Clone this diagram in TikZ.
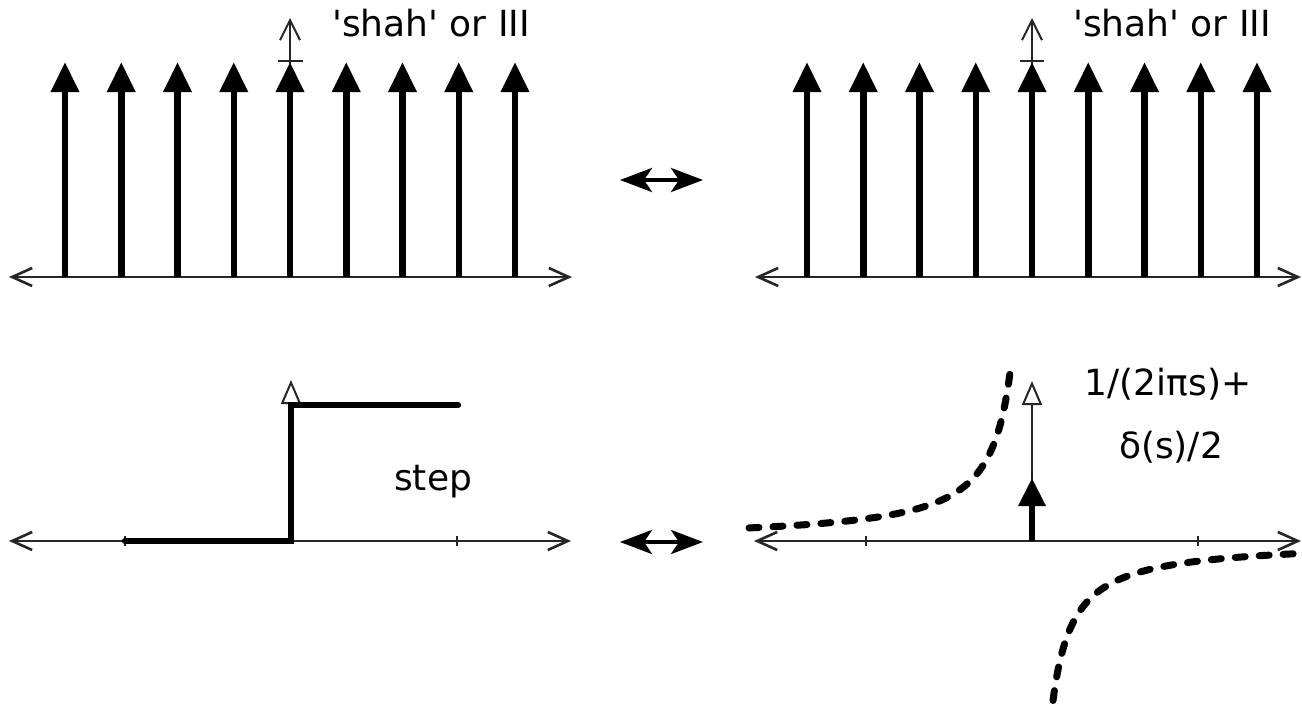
\documentclass[tikz,border=0pt]{standalone}
\usepackage{fontspec}
\setmainfont{DejaVu Sans}
\usetikzlibrary{arrows.meta}
\begin{document}
\begin{tikzpicture}[x=1pt,y=-1pt,
  axisline/.style={line width=2pt, draw=black!85},
  haxis/.style={axisline, {Straight Barb[length=20pt,width=18pt,line width=2.6pt]}-{Straight Barb[length=20pt,width=18pt,line width=2.6pt]}},
  vaxisbarb/.style={axisline, -{Straight Barb[length=20pt,width=20pt]}},
  vaxisopen/.style={axisline, -{Triangle[open,length=24pt,width=20pt,fill=white]}},
  spike/.style={line width=6.5pt, -{Triangle[length=30pt,width=27pt]}},
  dblarrow/.style={line width=4pt, {Stealth[length=32pt,width=24pt,inset=8pt]}-{Stealth[length=32pt,width=24pt,inset=8pt]}},
  stepline/.style={line width=6.5pt, line cap=round, line join=miter},
  tickmark/.style={line width=1.6pt, draw=black!85},
  dashcurve/.style={line width=7pt, line cap=round, dash pattern=on 10pt off 14pt},
  lbl/.style={font=\fontsize{36}{43}\selectfont, inner sep=0pt}]
\useasboundingbox (0,0) rectangle (1302,710);
\fill[white] (0,0) rectangle (1302,710);

% ---------- top-left: shah ----------
\coordinate (tlL) at (9,277);
\coordinate (tlR) at (572,277);
\coordinate (tlO) at (290,277);
\coordinate (tlT) at (290,18);
\draw[haxis] (tlL) -- (tlR);
\draw[vaxisbarb] (tlO) -- (tlT);
\draw[tickmark] (278,61) -- (303,61);
\foreach \k in {-4,...,4}{
  \draw[spike] ({290+56.25*\k},277) -- ({290+56.25*\k},62);
}
\node[lbl, anchor=base west] (shahL) at (332,36) {\textquotesingle shah\textquotesingle\ or III};

% ---------- top-right: shah ----------
\coordinate (trL) at (755,277);
\coordinate (trR) at (1301,277);
\coordinate (trO) at (1032,277);
\coordinate (trT) at (1032,18);
\draw[haxis] (trL) -- (trR);
\draw[vaxisbarb] (trO) -- (trT);
\draw[tickmark] (1020,61) -- (1044,61);
\foreach \k in {-4,...,4}{
  \draw[spike] ({1032+56.25*\k},277) -- ({1032+56.25*\k},62);
}
\node[lbl, anchor=base west] (shahR) at (1073,36) {\textquotesingle shah\textquotesingle\ or III};

% ---------- middle double arrows ----------
\coordinate (dA1) at (620,180);
\coordinate (dB1) at (703,180);
\draw[dblarrow] (dA1) -- (dB1);
\coordinate (dA2) at (620,542);
\coordinate (dB2) at (703,542);
\draw[dblarrow] (dA2) -- (dB2);

% ---------- bottom-left: step ----------
\coordinate (blL) at (9,541);
\coordinate (blR) at (571,541);
\coordinate (blO) at (291,541);
\coordinate (blT) at (291,380);
\draw[haxis] (blL) -- (blR);
\draw[tickmark] (125,536) -- (125,546);
\draw[tickmark] (457,536) -- (457,546);
\draw[vaxisopen] (blO) -- (blT);
\draw[stepline] (125,541) -- (291,541) -- (291,405) -- (458,405);
\node[lbl, anchor=base west] (stepL) at (394,490) {step};

% ---------- bottom-right: transform ----------
\coordinate (brL) at (754,541);
\coordinate (brR) at (1301,541);
\coordinate (brO) at (1032,541);
\coordinate (brT) at (1032,381);
\draw[haxis] (brL) -- (brR);
\draw[tickmark] (866,536) -- (866,546);
\draw[tickmark] (1198,536) -- (1198,546);
\draw[vaxisopen] (brO) -- (brT);
\draw[spike, -{Triangle[length=28pt,width=26pt]}] (brO) -- (1032,478);
\draw[dashcurve] plot[domain=749:1011, samples=150, smooth] (\x,{541-3700/(1032-\x)});
\draw[dashcurve] plot[domain=1053:1302, samples=150, smooth] (\x,{541+3350/(\x-1032)});
\node[lbl, anchor=base] (ftA) at (1168,395) {1/(2iπs)+};
\node[lbl, anchor=base] (ftB) at (1171,458) {δ(s)/2};
\end{tikzpicture}
\end{document}
